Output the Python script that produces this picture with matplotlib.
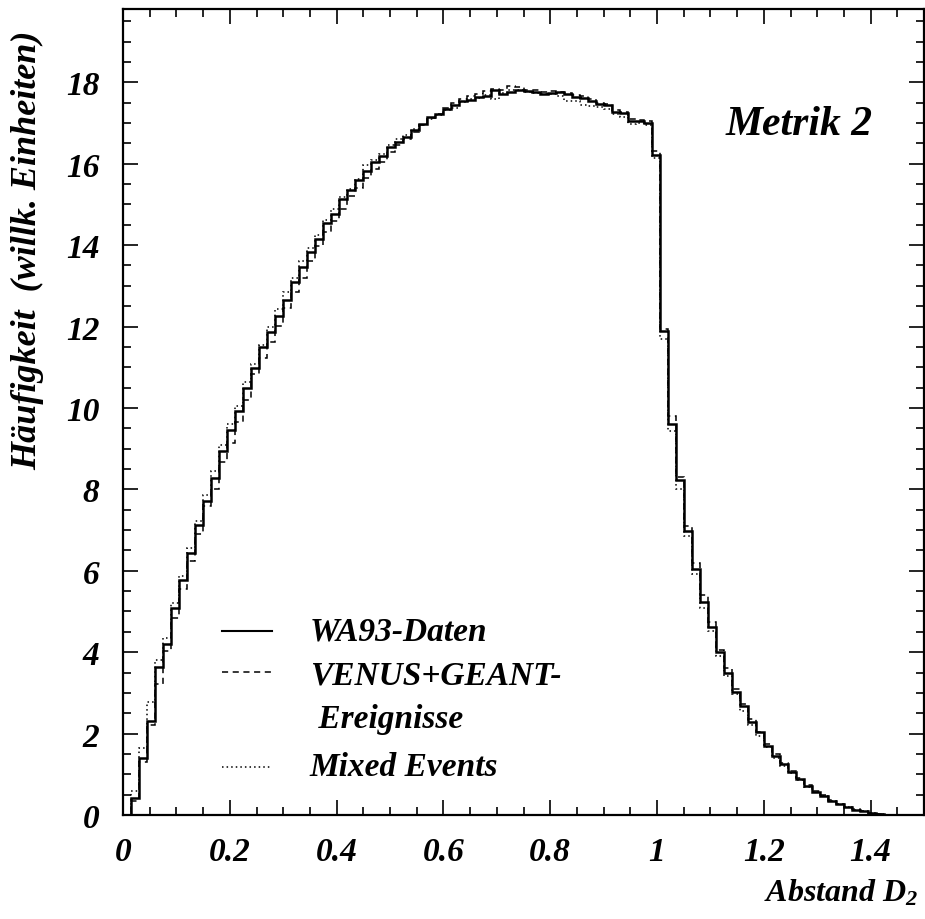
import numpy as np
import matplotlib
matplotlib.use("Agg")
import matplotlib.pyplot as plt
from matplotlib.lines import Line2D

plt.rcParams['font.family'] = ['Liberation Serif', 'DejaVu Serif']
plt.rcParams['font.weight'] = 'bold'
plt.rcParams['font.style'] = 'italic'
plt.rcParams['mathtext.fontset'] = 'custom'
plt.rcParams['mathtext.it'] = 'Liberation Serif:bold:italic'
plt.rcParams['mathtext.rm'] = 'Liberation Serif:bold:italic'

# 100 Bins, Breite 0.015, von 0 bis 1.5
bin_width = 0.015
n_bins = 100

wa93 = [0.00, 0.41, 1.39, 2.32, 3.64, 4.21, 5.08, 5.78, 6.44, 7.12,
        7.72, 8.28, 8.95, 9.45, 9.93, 10.50, 10.98, 11.49, 11.87, 12.26,
        12.66, 13.10, 13.47, 13.83, 14.15, 14.55, 14.77, 15.13, 15.35, 15.59,
        15.82, 16.04, 16.19, 16.42, 16.53, 16.65, 16.82, 16.97, 17.15, 17.21,
        17.34, 17.44, 17.54, 17.57, 17.64, 17.67, 17.80, 17.72, 17.77, 17.82,
        17.78, 17.77, 17.72, 17.74, 17.75, 17.71, 17.65, 17.62, 17.54, 17.46,
        17.44, 17.28, 17.25, 17.05, 17.05, 17.01, 16.21, 11.89, 9.60, 8.24,
        6.98, 6.04, 5.24, 4.61, 4.00, 3.50, 3.01, 2.68, 2.28, 2.03,
        1.70, 1.46, 1.25, 1.05, 0.88, 0.72, 0.57, 0.47, 0.35, 0.27,
        0.19, 0.13, 0.09, 0.05, 0.03, 0.01, 0.00, 0.00, 0.00, 0.00]

venus = [0.00, 0.35, 1.29, 2.20, 3.22, 4.04, 4.85, 5.55, 6.25, 6.90,
         7.60, 8.00, 8.68, 9.15, 9.65, 10.20, 10.83, 11.22, 11.62, 12.02,
         12.45, 12.84, 13.20, 13.61, 13.97, 14.31, 14.60, 14.88, 15.20, 15.40,
         15.65, 15.88, 16.05, 16.28, 16.45, 16.60, 16.78, 16.96, 17.12, 17.22,
         17.36, 17.48, 17.60, 17.66, 17.72, 17.78, 17.84, 17.82, 17.91, 17.88,
         17.82, 17.80, 17.77, 17.78, 17.77, 17.74, 17.68, 17.66, 17.58, 17.50,
         17.46, 17.32, 17.28, 17.10, 17.08, 17.04, 16.30, 11.95, 9.81, 8.30,
         7.10, 6.20, 5.40, 4.75, 4.05, 3.60, 3.10, 2.72, 2.35, 2.05,
         1.75, 1.50, 1.28, 1.07, 0.90, 0.74, 0.58, 0.48, 0.36, 0.28,
         0.20, 0.14, 0.09, 0.05, 0.03, 0.01, 0.00, 0.00, 0.00, 0.00]

mixed = [0.00, 0.58, 1.65, 2.77, 3.80, 4.35, 5.20, 5.86, 6.55, 7.23,
         7.86, 8.46, 9.10, 9.60, 10.05, 10.63, 11.08, 11.54, 11.98, 12.43,
         12.84, 13.20, 13.61, 13.94, 14.24, 14.62, 14.88, 15.17, 15.39, 15.62,
         15.96, 16.10, 16.25, 16.45, 16.60, 16.70, 16.85, 16.95, 17.10, 17.20,
         17.33, 17.38, 17.52, 17.60, 17.62, 17.68, 17.60, 17.74, 17.80, 17.80,
         17.75, 17.73, 17.72, 17.70, 17.66, 17.55, 17.55, 17.45, 17.42, 17.40,
         17.35, 17.22, 17.15, 16.98, 17.00, 16.95, 16.15, 11.69, 9.44, 8.00,
         6.86, 5.92, 5.08, 4.53, 3.90, 3.41, 2.97, 2.56, 2.22, 1.93,
         1.66, 1.40, 1.21, 1.02, 0.86, 0.70, 0.56, 0.46, 0.34, 0.27,
         0.19, 0.13, 0.09, 0.05, 0.03, 0.01, 0.00, 0.00, 0.00, 0.00]

labels = ['WA93-Daten', 'VENUS+GEANT-', ' Ereignisse', 'Mixed Events']

edges = np.arange(n_bins + 1) * bin_width

fig = plt.figure(figsize=(9.25, 9.2), dpi=100)
ax = fig.add_axes([123 / 925, 104 / 920, 801 / 925, 806 / 920])

ax.stairs(wa93, edges, color='black', linewidth=1.8)
ax.stairs(venus, edges, color='black', linewidth=1.1, linestyle=(0, (4, 3)))
ax.stairs(mixed, edges, color='black', linewidth=1.1, linestyle=(0, (1, 2)))

ax.set_xlim(0, 1.5)
ax.set_ylim(0, 19.8)

ax.set_xticks(np.arange(0, 1.41, 0.2))
ax.set_xticklabels(['0', '0.2', '0.4', '0.6', '0.8', '1', '1.2', '1.4'])
ax.set_xticks(np.arange(0, 1.51, 0.05), minor=True)
ax.set_yticks(np.arange(0, 19, 2))
ax.set_yticks(np.arange(0, 19.8, 0.5), minor=True)

ax.tick_params(which='both', direction='in', top=True, right=True, width=1.2)
ax.tick_params(which='major', length=11, labelsize=24)
ax.tick_params(axis='x', which='major', pad=15)
ax.tick_params(axis='y', which='major', pad=17)
ax.tick_params(which='minor', length=6)
for sp in ax.spines.values():
    sp.set_linewidth(1.6)

# Legende
lx0, lx1, tx = 0.124, 0.186, 0.233
ax.add_line(Line2D([lx0, lx1], [0.228, 0.228], transform=ax.transAxes,
                   color='black', linewidth=1.5))
ax.add_line(Line2D([lx0, lx1], [0.177, 0.177], transform=ax.transAxes,
                   color='black', linewidth=1.1, linestyle=(0, (4, 3))))
ax.add_line(Line2D([lx0, lx1], [0.060, 0.060], transform=ax.transAxes,
                   color='black', linewidth=1.1, linestyle=(0, (1, 2))))
ax.text(tx, 0.228, labels[0], transform=ax.transAxes, fontsize=24, va='center')
ax.text(tx, 0.174, labels[1], transform=ax.transAxes, fontsize=24, va='center')
ax.text(tx, 0.120, labels[2], transform=ax.transAxes, fontsize=24, va='center')
ax.text(tx, 0.060, labels[3], transform=ax.transAxes, fontsize=24, va='center')

ax.text(0.752, 0.857, 'Metrik 2', transform=ax.transAxes, fontsize=30, va='center')

fig.text(28 / 925, (920 - 250) / 920, 'Häufigkeit  (willk. Einheiten)',
         rotation=90, fontsize=26, ha='center', va='center')
fig.text(918 / 925, (920 - 893) / 920, r'$Abstand\ D_2$',
         fontsize=23, ha='right', va='center')

fig.savefig('out.png', dpi=100)
